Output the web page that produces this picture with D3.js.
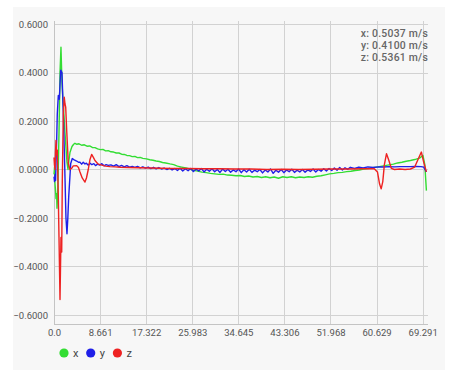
<!DOCTYPE html>
<html><head><meta charset="utf-8">
<script src="https://cdn.jsdelivr.net/npm/d3@7/dist/d3.min.js"></script>
<style>
html,body{margin:0;padding:0;background:#ffffff;}
svg{display:block;font-family:Roboto,"Noto Sans",sans-serif;}
</style></head>
<body><svg id="c" width="449" height="370"></svg>
<script>
const xTickValues = [0, 8.661, 17.322, 25.983, 34.645, 43.306, 51.968, 60.629, 69.291];
const xTickLabels = ["0.0","8.661","17.322","25.983","34.645","43.306","51.968","60.629","69.291"];
const yTickValues = [0.6, 0.4, 0.2, 0.0, -0.2, -0.4, -0.6];
const seriesNames = ["x","y","z"];
const seriesColors = ["#33dd33","#1f1fe8","#ee2222"];
const readouts = ["x: 0.5037 m/s","y: 0.4100 m/s","z: 0.5361 m/s"];

const xSeries = [[0,-0.02],[0.1,0.01],[0.19,-0.06],[0.3,-0.09],[0.38,-0.12],[0.5,-0.1],[0.56,-0.16],[0.65,-0.12],[0.75,-0.05],[0.94,0.15],[1.13,0.40],[1.31,0.504],[1.5,0.36],[1.69,0.28],[1.88,0.22],[2.07,0.15],[2.25,0.09],[2.44,0.03],[2.63,0.0],[2.82,0.04],[3.0,0.07],[3.38,0.095],[3.7,0.104],[3.94,0.108],[4.3,0.104],[4.7,0.106],[5.2,0.1],[5.7,0.102],[6.2,0.096],[6.7,0.097],[7.2,0.091],[7.7,0.09],[8.2,0.085],[8.7,0.082],[9.2,0.083],[9.7,0.077],[10.2,0.078],[10.7,0.073],[11.2,0.072],[11.7,0.068],[12.2,0.068],[12.7,0.063],[13.2,0.062],[13.7,0.058],[14.2,0.057],[14.7,0.053],[15.2,0.054],[15.7,0.049],[16.2,0.05],[16.7,0.046],[17.4,0.044],[18,0.04],[18.6,0.038],[19.2,0.035],[19.8,0.033],[20.4,0.029],[21,0.027],[21.8,0.023],[22.5,0.02],[23.2,0.014],[24,0.01],[24.8,0.006],[25.5,0.002],[26.2,-0.003],[27,-0.007],[27.8,-0.011],[28.6,-0.013],[29.4,-0.016],[30.2,-0.018],[31,-0.02],[31.8,-0.019],[32.6,-0.023],[33.4,-0.024],[34.2,-0.026],[35,-0.025],[35.8,-0.029],[36.6,-0.027],[37.4,-0.031],[38.2,-0.029],[39,-0.033],[39.8,-0.03],[40.6,-0.034],[41.4,-0.031],[42.2,-0.036],[43,-0.03],[43.8,-0.033],[44.6,-0.03],[45.4,-0.034],[46.2,-0.031],[47,-0.033],[47.8,-0.03],[48.6,-0.032],[49.4,-0.028],[50.2,-0.026],[51,-0.022],[51.8,-0.018],[52.6,-0.016],[53.4,-0.013],[54.2,-0.012],[55,-0.009],[55.8,-0.007],[56.6,-0.004],[57.4,-0.002],[58.2,0.002],[59,0.004],[59.8,0.007],[60.6,0.01],[61.4,0.013],[62.2,0.016],[63,0.019],[63.8,0.022],[64.6,0.027],[65.4,0.03],[66.2,0.034],[67,0.037],[67.8,0.041],[68.7,0.047],[69.35,0.058],[69.7,0.02],[70.0,-0.087]];

const ySeries = [[0,-0.03],[0.1,-0.05],[0.2,-0.02],[0.3,-0.045],[0.38,0.03],[0.5,0.12],[0.62,0.23],[0.81,0.305],[1.0,0.29],[1.26,0.41],[1.5,0.40],[1.75,0.23],[2.0,0.025],[2.25,-0.2],[2.44,-0.265],[2.6,-0.2],[2.76,-0.115],[3.14,0.025],[3.44,0.045],[3.8,0.04],[4.26,0.035],[4.6,0.03],[4.88,0.03],[5.2,0.022],[5.5,0.03],[5.82,0.023],[6.1,0.026],[6.4,0.018],[6.8,0.026],[7.1,0.02],[7.5,0.024],[7.8,0.016],[8.2,0.022],[8.6,0.018],[9,0.024],[9.4,0.015],[9.8,0.02],[10.2,0.017],[10.7,0.019],[11.2,0.014],[11.7,0.02],[12.2,0.012],[12.7,0.017],[13.2,0.011],[13.7,0.016],[14.2,0.01],[14.7,0.013],[15.2,0.009],[15.7,0.013],[16.2,0.007],[16.7,0.011],[17.2,0.006],[17.7,0.01],[18.2,0.004],[18.7,0.009],[19.2,0.003],[19.7,0.008],[20.2,0.002],[20.7,0.006],[21.2,0.0],[21.7,0.005],[22.2,-0.002],[22.7,0.004],[23.2,-0.004],[23.7,0.005],[24.2,-0.006],[24.7,0.003],[25.2,-0.005],[25.7,0.004],[26.2,-0.008],[26.7,0.002],[27.2,-0.006],[27.7,0.004],[28.2,-0.01],[28.7,0.001],[29.2,-0.007],[29.7,0.003],[30.2,-0.009],[30.7,0.0],[31.2,-0.012],[31.7,0.002],[32.2,-0.008],[32.7,0.001],[33.2,-0.011],[33.7,-0.002],[34.2,-0.009],[34.7,0.002],[35.2,-0.013],[35.7,-0.001],[36.2,-0.01],[36.7,0.001],[37.2,-0.012],[37.7,-0.003],[38.2,-0.009],[38.7,0.0],[39.2,-0.014],[39.7,-0.002],[40.2,-0.01],[40.7,0.002],[41.2,-0.016],[41.7,-0.003],[42.2,-0.011],[42.7,0.0],[43.2,-0.013],[43.7,-0.002],[44.2,-0.009],[44.7,0.001],[45.2,-0.012],[45.7,-0.003],[46.2,-0.01],[46.7,0.0],[47.2,-0.011],[47.7,-0.002],[48.2,-0.008],[48.7,0.002],[49.2,-0.01],[49.7,0.0],[50.2,-0.007],[50.7,0.003],[51.2,-0.006],[51.7,0.004],[52.2,-0.004],[52.7,0.006],[53.2,-0.003],[53.7,0.008],[54.2,-0.002],[54.7,0.007],[55.2,0.001],[55.7,0.009],[56.5,0.004],[57.3,0.01],[58.1,0.006],[59,0.011],[60,0.008],[61,0.011],[62,0.01],[63,0.012],[64,0.011],[65,0.012],[66,0.012],[67,0.012],[68,0.013],[69,0.012],[69.5,0.01],[70.0,-0.01]];

const zSeries = [[0,0.05],[0.08,0.02],[0.19,0.0],[0.28,0.07],[0.38,0.12],[0.5,0.06],[0.62,0.08],[0.8,-0.1],[0.94,-0.28],[1.13,-0.536],[1.31,-0.28],[1.45,-0.34],[1.56,-0.045],[1.75,0.23],[1.93,0.298],[2.07,0.27],[2.2,0.257],[2.39,0.16],[2.69,0.025],[3.0,0.0],[3.32,0.005],[3.62,0.015],[4.26,0.016],[4.6,0.008],[4.88,-0.01],[5.3,-0.035],[5.82,-0.052],[6.1,-0.035],[6.44,0.0],[6.75,0.04],[7.08,0.062],[7.4,0.05],[7.7,0.037],[8.32,0.022],[9,0.018],[9.7,0.014],[10.5,0.012],[11.5,0.011],[12.5,0.009],[14,0.008],[16,0.007],[18,0.006],[20,0.005],[22,0.004],[25,0.004],[28,0.003],[31,0.003],[34,0.002],[37,0.002],[40,0.0],[43,0.001],[46,0.0],[49,0.001],[52,0.002],[55,0.002],[58,0.003],[60.2,0.003],[60.8,-0.01],[61.2,-0.06],[61.5,-0.08],[61.8,-0.05],[62.1,0.02],[62.5,0.065],[62.9,0.04],[63.4,0.005],[64,0.0],[65,0.002],[66,0.0],[67,0.002],[67.8,0.01],[68.4,0.04],[69.05,0.072],[69.5,0.03],[70.0,-0.01]];

const svg = d3.select("#c");
const L = 54, R = 428, T = 21, B = 324;

svg.append("rect").attr("x",13).attr("y",7).attr("width",432).attr("height",363).attr("fill","#f7f7f7");

const x = d3.scaleLinear().domain([0, 70.3]).range([L, R]);
const y = d3.scaleLinear().domain([-0.6372, 0.6124]).range([B, T]);

const grid = svg.append("g").attr("stroke","#d2d2d2").attr("stroke-width",1);
yTickValues.forEach(v => {
  grid.append("line").attr("x1",L).attr("x2",R).attr("y1",Math.round(y(v))+0.5).attr("y2",Math.round(y(v))+0.5);
});
xTickValues.forEach(v => {
  grid.append("line").attr("y1",T).attr("y2",B).attr("x1",Math.round(x(v))+0.5).attr("x2",Math.round(x(v))+0.5);
});
svg.append("line").attr("x1",L+0.5).attr("x2",L+0.5).attr("y1",T).attr("y2",B).attr("stroke","#c4c4c4");
svg.append("line").attr("x1",L).attr("x2",R).attr("y1",B+0.5).attr("y2",B+0.5).attr("stroke","#c4c4c4");

const yAxis = d3.axisLeft(y).tickValues(yTickValues).tickFormat(d3.format(".4f")).tickSize(0).tickPadding(6);
const gy = svg.append("g").attr("transform",`translate(${L},0)`).call(yAxis);
gy.select(".domain").remove();
gy.selectAll("text").attr("fill","#555").style("font-size","9.5px").style("font-family","Roboto");

const xAxis = d3.axisBottom(x).tickValues(xTickValues).tickFormat((d,i)=>xTickLabels[i]).tickSize(0).tickPadding(5);
const gx = svg.append("g").attr("transform",`translate(0,${B})`).call(xAxis);
gx.select(".domain").remove();
gx.selectAll("text").attr("fill","#555").style("font-size","9.5px").style("font-family","Roboto");

const line = d3.line().x(d=>x(d[0])).y(d=>y(d[1]));
[xSeries, ySeries, zSeries].forEach((s,i)=>{
  svg.append("path").datum(s).attr("d",line).attr("fill","none")
    .attr("stroke",seriesColors[i]).attr("stroke-width",1.4).attr("stroke-linejoin","round");
});

readouts.forEach((t,i)=>{
  svg.append("text").attr("x",R).attr("y",36.5+i*12.2).attr("text-anchor","end")
    .attr("fill","#666").style("font-size","10.4px").style("font-weight","500")
    .style("letter-spacing","0.25px").text(t);
});

seriesNames.forEach((n,i)=>{
  const cx = 64 + i*26.7;
  svg.append("circle").attr("cx",cx).attr("cy",353).attr("r",4.6).attr("fill",seriesColors[i]);
  svg.append("text").attr("x",cx+9).attr("y",357).attr("fill","#444").style("font-size","11px").text(n);
});
</script></body></html>
